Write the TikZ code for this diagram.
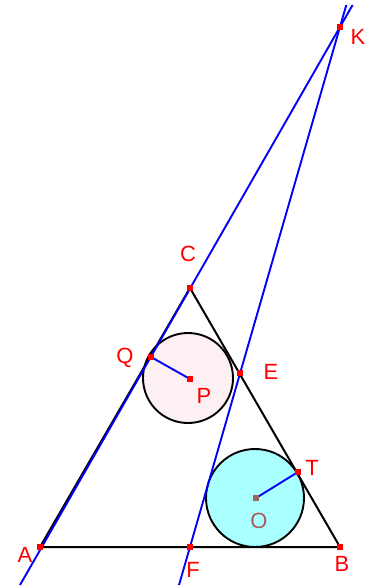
\documentclass[tikz,border=0pt]{standalone}
\usepackage{fontspec}
\setmainfont{Liberation Sans}
\definecolor{lblred}{RGB}{255,0,0}
\definecolor{obrown}{RGB}{170,90,90}
\definecolor{pinkfill}{RGB}{253,240,242}
\definecolor{cyanfill}{RGB}{170,255,255}
\definecolor{lineblue}{RGB}{0,0,255}
\tikzset{
  seg/.style={black,line width=2pt},
  bl/.style={lineblue,line width=1.9pt},
  circ/.style={black,line width=1.9pt},
  lbl/.style={text=lblred,font=\fontsize{22}{26}\selectfont,inner sep=0pt},
  pt/.style={fill=lblred,minimum size=5.5pt,inner sep=0pt,draw=none,rectangle},
}
\begin{document}
\begin{tikzpicture}[x=1pt,y=-1pt]
\useasboundingbox (0,0) rectangle (379,588);
% points
\coordinate (A) at (40,547);
\coordinate (B) at (340,547);
\coordinate (C) at (190,288);
\coordinate (K) at (340,27);
\coordinate (E) at (240,373);
\coordinate (F) at (190,547);
\coordinate (Q) at (151,357);
\coordinate (P) at (190,379);
\coordinate (T) at (298,472);
\coordinate (O) at (256,498);
\coordinate (L1a) at (20,585);
\coordinate (L1b) at (352.6,5);
\coordinate (L2a) at (179,585);
\coordinate (L2b) at (346.3,5);
% circles
\draw[circ,fill=pinkfill] (188,378) circle (45);
\draw[circ,fill=cyanfill] (255,498) circle (49);
% triangle
\draw[seg] (A) -- (B) -- (C) -- cycle;
% blue lines
\draw[bl] (L1a) -- (L1b);
\draw[bl] (L2a) -- (L2b);
\draw[bl] (Q) -- (P);
\draw[bl] (T) -- (O);
% markers
\foreach \p in {A,B,C,K,E,F,Q,T,P}{\node[pt] at (\p) {};}
\node[pt,fill=obrown!80!gray] at (O) {};
% labels
\node[lbl] (lK) at (358,37) {K};
\node[lbl] (lC) at (188,254) {C};
\node[lbl] (lQ) at (125,358) {Q};
\node[lbl] (lP) at (204,396) {P};
\node[lbl] (lE) at (271,372) {E};
\node[lbl] (lT) at (312,468) {T};
\node[lbl,text=obrown] (lO) at (259,521) {O};
\node[lbl] (lA) at (25,555) {A};
\node[lbl] (lF) at (193,570) {F};
\node[lbl] (lB) at (342,564) {B};
\end{tikzpicture}
\end{document}
